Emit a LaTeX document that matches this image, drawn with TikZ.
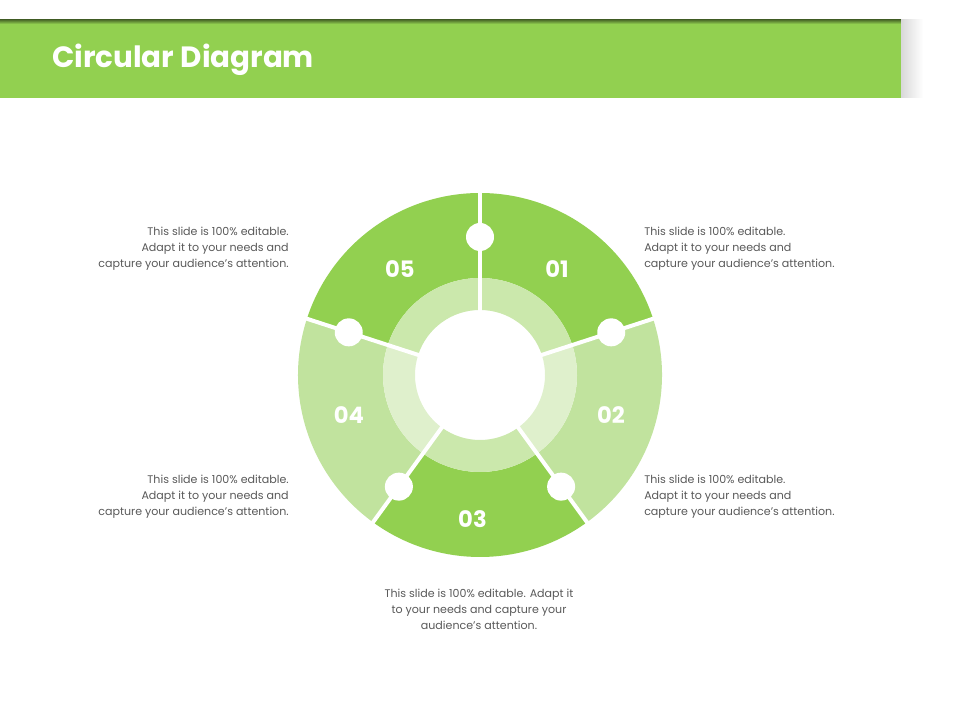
\documentclass[tikz,border=0pt]{standalone}
\usepackage{fontspec}
\setmainfont{Poppins}
\definecolor{leaf}{HTML}{92D050}
\definecolor{leaflight}{HTML}{C1E39E}
\definecolor{ringdark}{HTML}{CBE8AC}
\definecolor{ringlight}{HTML}{DFF0CC}
\definecolor{notegray}{HTML}{595959}
\tikzset{
  note/.style={font=\fontsize{8.3}{12}\selectfont, text=notegray, inner sep=0pt},
  num/.style={font=\fontsize{17}{17}\selectfont\bfseries, text=white},
  knob/.style={circle, fill=white, minimum size=21pt, inner sep=0pt}
}
\begin{document}
\begin{tikzpicture}[x=0.75pt,y=0.75pt,line join=round]
	\useasboundingbox (0,0) rectangle (960,720);
	% title bar
	\fill[leaf] (0,622) rectangle (902,700);
	\shade[top color=leaf!55!black, bottom color=leaf] (0,696) rectangle (902,700);
	\shade[left color=gray!30, right color=white] (901,622) rectangle (923,700);
	\node[anchor=west, inner sep=0pt, font=\fontsize{22}{22}\selectfont\bfseries, text=white] (title) at (52,660) {Circular Diagram};
	% ring
	\coordinate (c) at (480,345);
	\foreach \a/\col/\rcol in {18/leaf/ringdark,-54/leaflight/ringlight,-126/leaf/ringdark,162/leaflight/ringlight,90/leaf/ringdark}{
		\fill[\col] ([shift={(\a:182)}]c) arc[start angle=\a, delta angle=72, radius=182]
			-- ([shift={(\a+72:97)}]c) arc[start angle=\a+72, delta angle=-72, radius=97] -- cycle;
		\fill[\rcol] ([shift={(\a:97)}]c) arc[start angle=\a, delta angle=72, radius=97]
			-- ([shift={(\a+72:65)}]c) arc[start angle=\a+72, delta angle=-72, radius=65] -- cycle;
	}
	\foreach \a in {90,18,-54,-126,162}{
		\draw[white, line width=3pt] ([shift={(\a:60)}]c) -- ([shift={(\a:188)}]c);
		\node[knob] (k\a) at ([shift={(\a:138)}]c) {};
	}
	\foreach \n/\a/\r in {01/54/131,02/-17/137,03/-93/144,04/197/137,05/127/133}
		{\node[num] (n\n) at ([shift={(\a:\r)}]c) {\n};}
	% notes
	\node[note, anchor=north east, align=right] (t5) at (289,493) {This slide is 100\% editable.\\Adapt it to your needs and\\capture your audience's attention.};
	\node[note, anchor=north west, align=left] (t1) at (644,493) {This slide is 100\% editable.\\Adapt it to your needs and\\capture your audience's attention.};
	\node[note, anchor=north east, align=right] (t4) at (289,245) {This slide is 100\% editable.\\Adapt it to your needs and\\capture your audience's attention.};
	\node[note, anchor=north west, align=left] (t2) at (644,245) {This slide is 100\% editable.\\Adapt it to your needs and\\capture your audience's attention.};
	\node[note, anchor=north, align=center] (t3) at (479,131) {This slide is 100\% editable. Adapt it\\to your needs and capture your\\audience's attention.};
\end{tikzpicture}
\end{document}
